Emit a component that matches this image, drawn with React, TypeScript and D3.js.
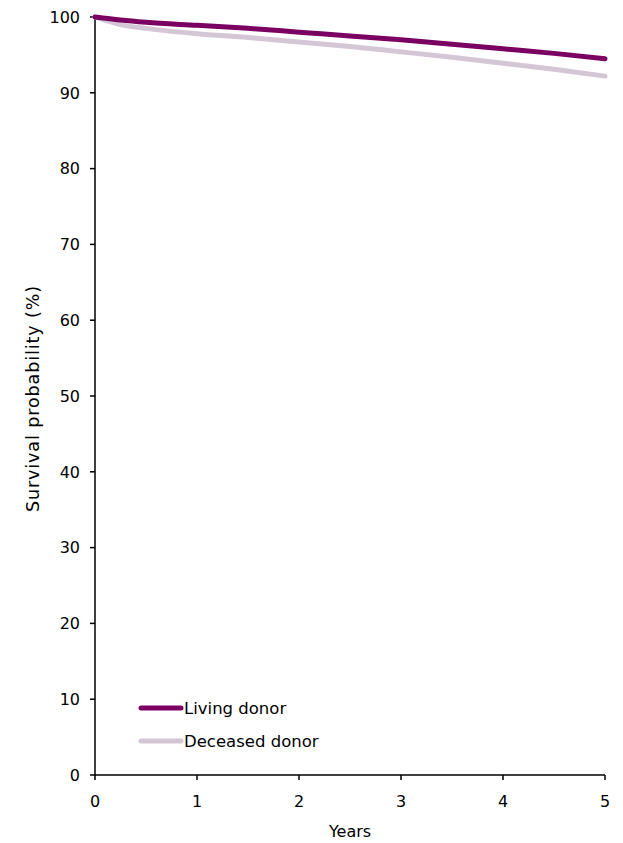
import React from "react";
import * as d3 from "d3";

const years = [0, 0.25, 0.5, 1, 1.5, 2, 2.5, 3, 3.5, 4, 4.5, 5];
const livingDonor = [100, 99.6, 99.3, 98.9, 98.5, 98.0, 97.5, 97.0, 96.4, 95.8, 95.2, 94.5];
const deceasedDonor = [100, 99.0, 98.5, 97.8, 97.3, 96.7, 96.1, 95.4, 94.7, 93.9, 93.1, 92.2];
const xTicks = [0, 1, 2, 3, 4, 5];
const yTicks = [0, 10, 20, 30, 40, 50, 60, 70, 80, 90, 100];
const seriesNames = ["Living donor", "Deceased donor"];
const seriesColors = ["#7a0062", "#d5c6d5"];

export default function App() {
  const W = 623, H = 843;
  const x = d3.scaleLinear().domain([0, 5]).range([95, 605]);
  const y = d3.scaleLinear().domain([0, 100]).range([775, 17]);
  const line = d3.line<[number, number]>().x(d => x(d[0])).y(d => y(d[1])).curve(d3.curveMonotoneX);
  const series = [livingDonor, deceasedDonor];
  const font = "DejaVu Sans, Verdana, sans-serif";
  return (
    <svg width={W} height={H} style={{ position: "absolute", left: 0, top: 0, background: "#fff" }} fontFamily={font}>
      <line x1={x(0)} x2={x(0)} y1={y(0)} y2={y(100)} stroke="#000" strokeWidth={1.5} />
      <line x1={x(0)} x2={x(5)} y1={y(0)} y2={y(0)} stroke="#000" strokeWidth={1.5} />
      {yTicks.map(t => (
        <g key={"y" + t}>
          <line x1={x(0) - 5} x2={x(0)} y1={y(t)} y2={y(t)} stroke="#000" strokeWidth={1.5} />
          <text x={x(0) - 15} y={y(t)} dy="0.36em" textAnchor="end" fontSize={16}>{t}</text>
        </g>
      ))}
      {xTicks.map(t => (
        <g key={"x" + t}>
          <line x1={x(t)} x2={x(t)} y1={y(0)} y2={y(0) + 5} stroke="#000" strokeWidth={1.5} />
          <text x={x(t)} y={801.5} dy="0.36em" textAnchor="middle" fontSize={16}>{t}</text>
        </g>
      ))}
      <text x={350} y={831} dy="0.36em" textAnchor="middle" fontSize={16}>Years</text>
      <text transform={`translate(33,399) rotate(-90)`} dy="0.36em" textAnchor="middle" fontSize={17.5} textLength={226} lengthAdjust="spacing">Survival probability (%)</text>
      {[1, 0].map(i => (
        <path key={i} d={line(years.map((yr, k) => [yr, series[i][k]]) as [number, number][]) || ""}
          fill="none" stroke={seriesColors[i]} strokeWidth={5} strokeLinecap="round" />
      ))}
      {seriesNames.map((n, i) => (
        <g key={n}>
          <line x1={141} x2={181} y1={708 + i * 33} y2={708 + i * 33} stroke={seriesColors[i]} strokeWidth={5} strokeLinecap="round" />
          <text x={184} y={708 + i * 33} dy="0.36em" fontSize={16.5}>{n}</text>
        </g>
      ))}
    </svg>
  );
}
